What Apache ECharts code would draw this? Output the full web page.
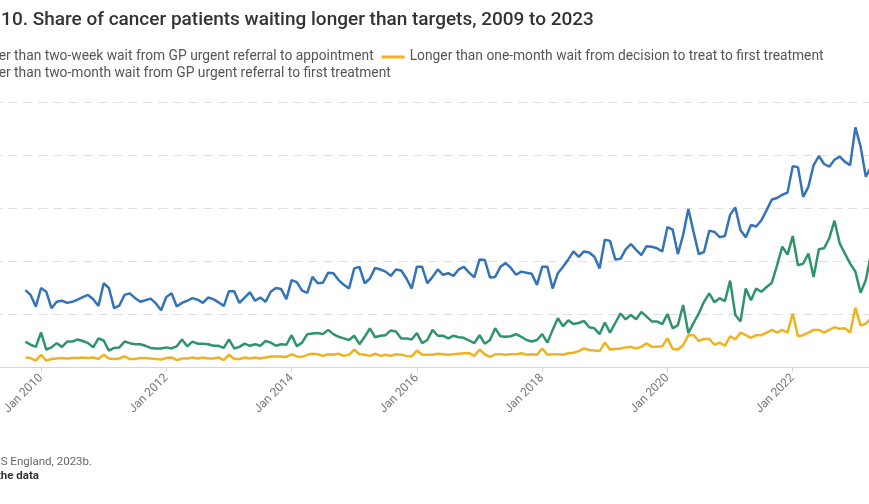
<!DOCTYPE html>
<html>
<head>
<meta charset="utf-8">
<title>Share of cancer patients waiting longer than targets, 2009 to 2023</title>
<script src="https://cdn.jsdelivr.net/npm/echarts@6/dist/echarts.min.js"></script>
<style>
html, body { margin: 0; padding: 0; background: #fff; overflow: hidden; }
#chart { width: 869px; height: 504px; }
</style>
</head>
<body>
<div id="chart"></div>
<script>
// monthly readings, first one is Oct 2009 (x = months since Jan 2010)
const startOffset = -3;
const tickLabels = ['Jan 2010', 'Jan 2012', 'Jan 2014', 'Jan 2016', 'Jan 2018', 'Jan 2020', 'Jan 2022'];
const yTicks = [0, 10, 20, 30, 40, 50];

const seriesNames = [
  'Longer than two-week wait from GP urgent referral to appointment',
  'Longer than one-month wait from decision to treat to first treatment',
  'Longer than two-month wait from GP urgent referral to first treatment'
];

const twoWeek = [
  4.8,4.2,3.8,6.5,3.3,3.7,4.5,3.8,4.8,4.8,5.2,4.9,4.5,3.7,5.4,5.0,3.1,3.6,3.7,4.8,4.5,4.3,4.3,4.0,3.6,3.5,3.5,3.7,
  3.5,3.9,5.2,3.9,4.8,4.4,4.4,4.3,4.0,4.0,3.6,5.2,3.5,3.8,4.4,4.0,4.3,4.0,4.9,4.6,4.0,4.3,4.2,6.0,3.9,4.6,6.2,6.3,
  6.4,6.2,7.0,6.2,5.7,5.4,5.1,5.9,4.3,5.7,7.3,5.6,5.9,6.0,6.9,6.7,5.4,5.4,5.2,6.4,4.5,5.1,7.0,5.9,5.9,5.4,5.9,5.6,
  5.5,5.0,4.5,6.0,4.4,5.1,7.3,5.8,5.7,5.8,6.2,5.7,5.1,4.8,5.1,6.2,4.6,7.0,9.2,7.7,8.8,8.1,8.3,8.7,7.5,7.3,6.2,
  8.4,6.5,8.3,10.1,9.0,9.8,9.0,10.4,9.5,8.6,8.6,8.1,10.0,7.3,7.9,11.7,6.4,8.3,10.1,12.3,13.9,12.2,13.0,12.4,16.3,9.8,
  8.6,14.8,12.6,14.8,14.2,15.1,15.9,19.2,22.7,21.2,24.7,19.2,19.5,21.4,17.0,22.2,22.4,24.3,27.6,23.3,21.4,19.5,18.0,14.0,16.4,21.4
];

const oneMonth = [
  1.8,1.7,1.2,2.3,1.2,1.5,1.6,1.7,1.6,1.7,1.7,1.8,1.7,1.8,1.5,2.3,1.6,1.5,1.6,2.0,1.5,1.5,1.7,1.7,1.6,1.5,1.4,1.7,
  1.8,1.3,1.6,1.6,1.8,1.6,1.8,1.6,1.6,1.8,1.3,2.3,1.5,1.5,1.8,1.6,1.8,1.6,1.8,2.0,2.0,2.0,1.9,2.4,2.0,1.9,2.3,2.5,
  2.4,2.1,2.4,2.3,2.5,2.1,2.3,3.3,2.4,2.3,2.1,2.5,2.1,2.3,2.1,2.4,2.3,2.1,2.0,3.1,2.3,2.3,2.3,2.5,2.4,2.3,2.4,2.5,
  2.6,2.6,2.1,3.3,2.4,1.9,2.4,2.4,2.3,2.4,2.4,2.6,2.3,2.4,2.3,3.5,2.3,2.4,2.4,2.3,2.6,2.7,3.0,3.5,3.2,3.1,3.0,
  4.6,3.3,3.4,3.5,3.7,3.8,3.5,3.8,4.5,3.8,3.8,3.9,5.4,3.4,3.3,4.1,6.0,6.0,4.9,5.3,5.3,4.2,4.6,4.0,5.8,5.2,
  6.5,6.0,5.5,6.0,6.0,6.5,7.0,6.5,7.0,6.5,10.1,5.8,6.0,6.5,7.0,7.0,6.5,7.0,7.5,7.2,7.3,6.5,11.2,7.8,8.2,9.2
];

const twoMonth = [
  14.5,13.6,11.4,14.9,14.2,11.1,12.3,12.5,12.1,12.3,12.7,13.2,13.6,12.8,11.5,15.8,14.9,11.1,11.6,13.6,13.9,13.0,12.3,12.6,12.9,12.0,10.7,13.2,
  13.9,11.4,12.1,12.5,13.0,12.7,12.1,13.1,12.8,12.2,11.5,14.3,14.3,12.1,13.1,14.1,12.5,13.1,12.3,14.2,14.9,14.7,12.8,16.4,16.0,14.4,14.0,
  17.0,15.8,15.9,17.8,17.7,16.4,15.5,14.8,18.6,18.9,15.8,16.7,18.7,18.4,18.0,17.2,18.4,18.2,16.7,14.8,18.9,18.9,15.8,17.0,18.4,17.4,17.7,17.2,18.4,
  18.9,17.8,16.9,20.3,20.2,16.9,17.0,18.9,19.6,18.7,17.4,18.0,17.8,17.6,15.5,18.9,18.9,14.8,17.7,18.9,20.3,21.8,20.8,21.8,21.6,20.8,18.6,
  24.0,23.8,20.3,20.4,22.2,23.2,22.1,21.1,22.8,22.7,22.4,21.8,26.4,25.9,21.3,24.9,29.8,25.5,21.3,21.7,25.7,25.5,24.5,24.7,28.7,30.1,25.8,24.5,26.8,
  26.5,27.7,29.6,31.6,31.9,32.5,32.9,37.9,37.7,32.1,34.0,38.1,39.8,38.3,37.8,39.1,39.7,38.7,38.1,45.2,41.6,35.9,37.8
];

const seriesValues = [twoWeek, oneMonth, twoMonth];
const colors = ['#2f9469', '#efb320', '#3573b9'];
const tickValues = tickLabels.map((t, k) => k * 24);

const FONT = 'Roboto, "Noto Sans", sans-serif';
const LEFT = -57;   // chart is cropped on the left, like the reference
const LEGEND_LEFT = -60;

function toPairs(vals) {
  return vals.map((v, i) => [startOffset + i, v]);
}

const chart = echarts.init(document.getElementById('chart'));

const legendText = { fontFamily: FONT, fontSize: 13.8, color: '#555', lineHeight: 14 };

const option = {
  animation: false,
  backgroundColor: '#fff',
  title: {
    text: 'Figure 10. Share of cancer patients waiting longer than targets, 2009 to 2023',
    left: LEFT,
    top: 11,
    padding: 0,
    textStyle: { fontFamily: FONT, fontSize: 19, fontWeight: 500, color: '#333' }
  },
  legend: [
    {
      data: [seriesNames[0], seriesNames[1]],
      left: LEGEND_LEFT, top: 50, padding: 0, width: 1000,
      itemGap: 8, itemWidth: 23, itemHeight: 3, icon: 'rect',
      textStyle: legendText
    },
    {
      data: [seriesNames[2]],
      left: LEGEND_LEFT, top: 67, padding: 0, width: 1000,
      itemGap: 8, itemWidth: 23, itemHeight: 3, icon: 'rect',
      textStyle: legendText
    }
  ],
  grid: {
    left: -21.6, right: -17.7, top: 102, bottom: 137,
    containLabel: false, outerBoundsMode: 'none'
  },
  xAxis: {
    type: 'value',
    min: -12,
    max: 162,
    splitLine: { show: false },
    axisLine: { lineStyle: { color: '#d6d6d6', width: 1 } },
    axisTick: { customValues: tickValues, length: 5, lineStyle: { color: '#d6d6d6' } },
    axisLabel: {
      customValues: tickValues,
      formatter: v => tickLabels[tickValues.indexOf(v)],
      rotate: 45,
      margin: 9,
      fontFamily: FONT,
      fontSize: 12,
      color: '#777'
    }
  },
  yAxis: {
    type: 'value',
    min: yTicks[0],
    max: yTicks[yTicks.length - 1],
    interval: 10,
    axisLine: { show: false },
    axisTick: { show: false },
    axisLabel: { formatter: '{value}%', fontFamily: FONT, fontSize: 12, color: '#777' },
    splitLine: { lineStyle: { color: '#e0e0e0', type: [9, 6], width: 1 } }
  },
  graphic: [
    {
      type: 'text', x: LEFT, y: 462,
      style: { text: 'Source: NHS England, 2023b.', fontFamily: FONT, fontSize: 11.5, fill: '#666', verticalAlign: 'middle' }
    },
    {
      type: 'text', x: LEFT, y: 476,
      style: { text: 'Download the data', fontFamily: FONT, fontSize: 11.5, fontWeight: 'bold', fill: '#333', verticalAlign: 'middle' }
    }
  ],
  series: seriesNames.map((name, k) => ({
    name: name,
    type: 'line',
    data: toPairs(seriesValues[k]),
    showSymbol: false,
    symbol: 'none',
    lineStyle: { width: 2.5, color: colors[k] },
    itemStyle: { color: colors[k] },
    emphasis: { disabled: true }
  }))
};

chart.setOption(option);
</script>
</body>
</html>
